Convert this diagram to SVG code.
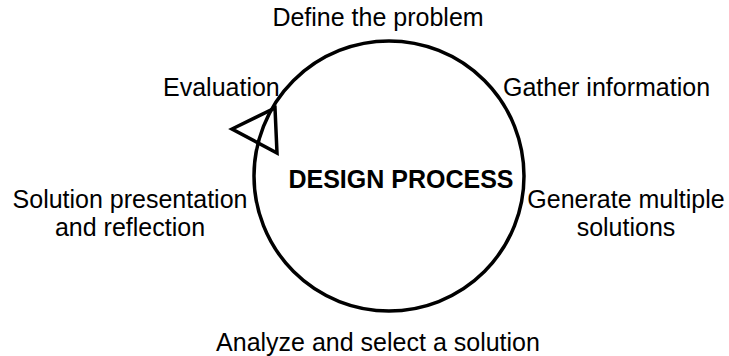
<svg xmlns="http://www.w3.org/2000/svg" width="729" height="356" viewBox="0 0 729 356">
<style>
text{font-family:"Liberation Sans",Arial,sans-serif;font-size:25px;fill:#000}
.c{text-anchor:middle}
.b{font-weight:bold}
.ln{fill:none;stroke:#000;stroke-width:3.5}
</style>
<rect width="729" height="356" fill="#fff"/>
<g id="connectors">
<circle class="ln" cx="389" cy="176" r="135"/>
<polygon class="ln" points="232,129 275,108 277,153" stroke-linejoin="miter"/>
</g>
<g id="center"><text class="c b" x="401" y="188">DESIGN PROCESS</text></g>
<g id="define"><text class="c" x="378" y="26">Define the problem</text></g>
<g id="gather"><text x="503" y="96">Gather information</text></g>
<g id="generate"><text class="c" x="626" y="208">Generate multiple</text><text class="c" x="626" y="236">solutions</text></g>
<g id="analyze"><text class="c" x="378" y="351">Analyze and select a solution</text></g>
<g id="solution"><text class="c" x="130" y="208">Solution presentation</text><text class="c" x="130" y="236">and reflection</text></g>
<g id="evaluation"><text x="163" y="96">Evaluation</text></g>
</svg>
